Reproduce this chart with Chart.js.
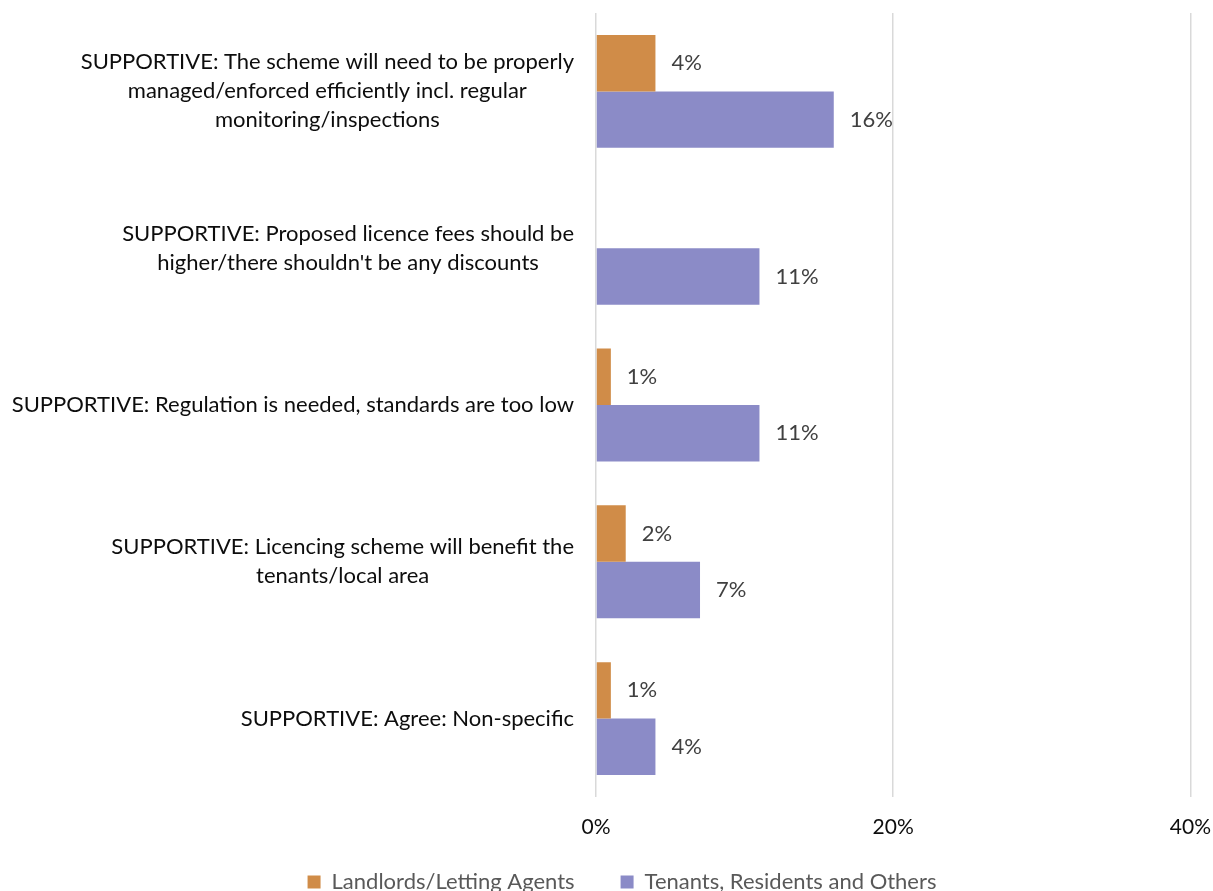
<!DOCTYPE html>
<html>
<head>
<meta charset="utf-8">
<title>Supportive comments</title>
<script src="https://cdn.jsdelivr.net/npm/chart.js@4/dist/chart.umd.min.js"></script>
<style>
  html, body { margin: 0; padding: 0; background: #fff; }
  #wrap { width: 1213px; height: 891px; position: relative; }
</style>
</head>
<body>
<div id="wrap"><canvas id="comments-chart"></canvas></div>
<script>
const categories = [
    ['SUPPORTIVE: The scheme will need to be properly', 'managed/enforced efficiently incl. regular', 'monitoring/inspections'],
    ['SUPPORTIVE: Proposed licence fees should be', 'higher/there shouldn\'t be any discounts'],
    ['SUPPORTIVE: Regulation is needed, standards are too low'],
    ['SUPPORTIVE: Licencing scheme will benefit the', 'tenants/local area'],
    ['SUPPORTIVE: Agree: Non-specific']
];
const landlords = [4, 0, 1, 2, 1];
const tenants = [16, 11, 11, 7, 4];
const xTicks = [0, 20, 40];

const FONT = 'Lato, "Open Sans", sans-serif';

// category labels: block right-aligned to the axis, lines centred inside the block
const categoryLabels = {
    id: 'categoryLabels',
    afterDraw(chart) {
        const ctx = chart.ctx;
        const y = chart.scales.y;
        ctx.save();
        ctx.font = '22px ' + FONT;
        ctx.fillStyle = '#0d0d0d';
        ctx.textAlign = 'center';
        ctx.textBaseline = 'middle';
        categories.forEach((lines, i) => {
            const widest = Math.max(...lines.map(l => ctx.measureText(l).width));
            const cx = y.right - 22 - widest / 2;
            const cy = y.getPixelForTick(i);
            lines.forEach((line, j) => {
                ctx.fillText(line, cx, cy + (j - (lines.length - 1) / 2) * 29);
            });
        });
        ctx.restore();
    }
};

// value labels just past the end of each bar
const valueLabels = {
    id: 'valueLabels',
    afterDatasetsDraw(chart) {
        const ctx = chart.ctx;
        ctx.save();
        ctx.font = '22px ' + FONT;
        ctx.fillStyle = '#404040';
        ctx.textAlign = 'left';
        ctx.textBaseline = 'middle';
        chart.data.datasets.forEach((ds, di) => {
            chart.getDatasetMeta(di).data.forEach((bar, i) => {
                const v = ds.data[i];
                if (!v) return;
                ctx.fillText(v + '%', bar.x + 16, bar.y);
            });
        });
        ctx.restore();
    }
};

// legend row sits lower and a little right; x axis box extends to the bottom so its labels aren't clipped
const legendPlacement = {
    id: 'legendPlacement',
    afterLayout(chart) {
        const lg = chart.legend;
        const h = lg.height;
        lg.top = 882 - 46 - 11;
        lg.bottom = lg.top + h;
        lg.left += 18;
        lg.right += 18;
        chart.scales.x.bottom = chart.height;
    }
};

const chartCanvas = document.querySelector('#comments-chart');

var commentsChart = new Chart(chartCanvas, {
    type: 'bar',
    data: {
        labels: categories,
        datasets: [{
            label: 'Landlords/Letting Agents',
            data: landlords,
            backgroundColor: 'rgb(208, 140, 72)'
        }, {
            label: 'Tenants, Residents and Others',
            data: tenants,
            backgroundColor: 'rgb(139, 139, 199)'
        }]
    },
    options: {
        indexAxis: 'y',
        responsive: true,
        maintainAspectRatio: false,
        animation: false,
        layout: {
            padding: { top: 13, right: 5, bottom: 0, left: 0 }
        },
        datasets: {
            bar: {
                categoryPercentage: 0.72,
                barPercentage: 1
            }
        },
        scales: {
            x: {
                min: 0,
                max: 40,
                afterBuildTicks(scale) {
                    scale.ticks = xTicks.map(v => ({ value: v }));
                },
                afterFit(scale) {
                    scale.height = 16;
                },
                grid: {
                    color: '#d9d9d9',
                    lineWidth: 1.5,
                    tickColor: 'transparent',
                    tickLength: 16
                },
                border: { display: false },
                ticks: {
                    padding: 2,
                    color: '#0d0d0d',
                    font: { family: FONT, size: 21 },
                    callback: v => v + '%'
                }
            },
            y: {
                afterFit(scale) {
                    scale.width = 596;
                },
                grid: { display: false },
                border: { display: false },
                ticks: { display: false }
            }
        },
        plugins: {
            legend: {
                position: 'bottom',
                labels: {
                    boxWidth: 13,
                    boxHeight: 13,
                    padding: 46,
                    color: '#595959',
                    font: { family: FONT, size: 22 }
                }
            },
            tooltip: { enabled: false }
        }
    },
    plugins: [categoryLabels, valueLabels, legendPlacement]
});
</script>
</body>
</html>
